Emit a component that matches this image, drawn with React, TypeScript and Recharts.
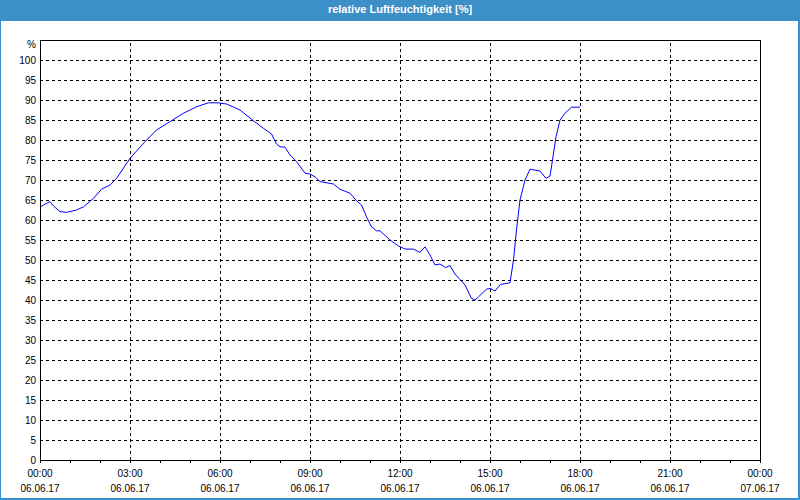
import React from "react";
import {
  LineChart,
  Line,
  XAxis,
  YAxis,
  CartesianGrid,
  ReferenceLine,
} from "recharts";

// minutes since 06.06.17 00:00
const times = [
  0, 20, 27, 40, 53, 73, 87, 107, 123, 140, 153, 180, 207, 233, 260, 287, 313,
  337, 357, 360, 373, 400, 427, 447, 463, 473, 480, 490, 500, 513, 530, 540,
  550, 560, 587, 600, 620, 633, 643, 653, 663, 673, 680, 700, 717, 730, 747,
  760, 770, 780, 790, 800, 811, 820, 830, 850, 863, 870, 877, 893, 901, 910,
  921, 940, 947, 953, 960, 970, 980, 1000, 1012, 1020, 1025, 1032, 1040, 1050,
  1063, 1080,
];

// relative Luftfeuchtigkeit in %
const humidity = [
  63.3, 64.6, 63.5, 62.1, 61.9, 62.5, 63.3, 65.4, 67.7, 68.75, 70.4, 75.4, 79.2,
  82.5, 84.6, 86.7, 88.3, 89.3, 89.3, 89.2, 89.0, 87.5, 84.8, 82.9, 81.5, 79.0,
  78.3, 78.2, 76.25, 74.6, 71.7, 71.5, 70.8, 69.6, 69.0, 67.7, 66.7, 64.8,
  63.75, 60.8, 58.3, 57.3, 57.3, 55.0, 53.5, 52.75, 52.7, 51.9, 53.3, 51.25,
  48.75, 49.0, 48.1, 48.6, 46.5, 43.75, 40.4, 40.0, 40.8, 42.7, 42.9, 42.25,
  43.9, 44.3, 50, 57.5, 65, 70, 72.7, 72.25, 70.4, 71, 75, 80.8, 85, 86.7, 88.2,
  88.2,
];

const yTicks = [0, 5, 10, 15, 20, 25, 30, 35, 40, 45, 50, 55, 60, 65, 70, 75, 80, 85, 90, 95, 100, 105];
const hourTicks = Array.from({ length: 25 }, (_, i) => i * 60);
const majorLines = [180, 360, 540, 720, 900, 1080, 1260];

const data = times.map((t, i) => ({ t, h: humidity[i] }));

const FONT = "'Liberation Sans', Arial, sans-serif";
const BLUE = "#3c8fc7";

const pad = (n: number) => String(n).padStart(2, "0");

function XTick({ x, y, payload }: any) {
  const v = payload.value as number;
  if (v % 180 !== 0) return <g />;
  const hh = Math.floor(v / 60) % 24;
  const date = v >= 1440 ? "07.06.17" : "06.06.17";
  return (
    <g>
      <text x={x} y={y + 12} textAnchor="middle" fontSize={10} fontFamily={FONT} fill="#000">
        {`${pad(hh)}:00`}
      </text>
      <text x={x} y={y + 27} textAnchor="middle" fontSize={10} fontFamily={FONT} fill="#000">
        {date}
      </text>
    </g>
  );
}

function YTick({ x, y, payload }: any) {
  const v = payload.value as number;
  const label = v === 105 ? "%" : String(v);
  return (
    <text x={x} y={y + (v === 105 ? 8 : 3.5)} textAnchor="end" fontSize={10} fontFamily={FONT} fill="#000">
      {label}
    </text>
  );
}

export default function App() {
  return (
    <div style={{ position: "relative", width: 800, height: 500, background: "#fff" }}>
      <style>{`
        body{margin:0}
        .recharts-cartesian-grid line,
        .recharts-reference-line line,
        .recharts-cartesian-axis line { shape-rendering: crispEdges; }
      `}</style>
      <LineChart
        width={800}
        height={500}
        data={data}
        margin={{ top: 40, right: 40, bottom: 0, left: 0 }}
      >
        <CartesianGrid vertical={false} stroke="#000" strokeDasharray="3 3" />
        <XAxis
          dataKey="t"
          type="number"
          domain={[0, 1440]}
          ticks={hourTicks}
          interval={0}
          height={40}
          tickSize={3}
          tickMargin={2}
          axisLine={{ stroke: "#000" }}
          tickLine={{ stroke: "#000" }}
          tick={<XTick />}
        />
        <YAxis
          type="number"
          domain={[0, 105]}
          ticks={yTicks}
          interval={0}
          width={40}
          tickSize={0}
          tickMargin={4}
          axisLine={{ stroke: "#000" }}
          tickLine={false}
          tick={<YTick />}
        />
        {majorLines.map((m) => (
          <ReferenceLine key={m} x={m} stroke="#000" strokeDasharray="3 3" />
        ))}
        <ReferenceLine x={1440} stroke="#000" />
        <ReferenceLine y={105} stroke="#000" />
        <Line
          type="linear"
          dataKey="h"
          stroke="#0000ff"
          strokeWidth={1}
          dot={false}
          isAnimationActive={false}
        />
      </LineChart>
      <div
        style={{
          position: "absolute",
          top: 0,
          left: 0,
          width: 800,
          height: 21,
          background: BLUE,
          color: "#fff",
          fontFamily: FONT,
          fontWeight: "bold",
          fontSize: 11,
          lineHeight: "19px",
          textAlign: "center",
        }}
      >
        relative Luftfeuchtigkeit [%]
      </div>
      <div
        style={{
          position: "absolute",
          inset: 0,
          borderLeft: `1px solid ${BLUE}`,
          borderRight: `2px solid ${BLUE}`,
          borderBottom: `2px solid ${BLUE}`,
          pointerEvents: "none",
        }}
      />
    </div>
  );
}
